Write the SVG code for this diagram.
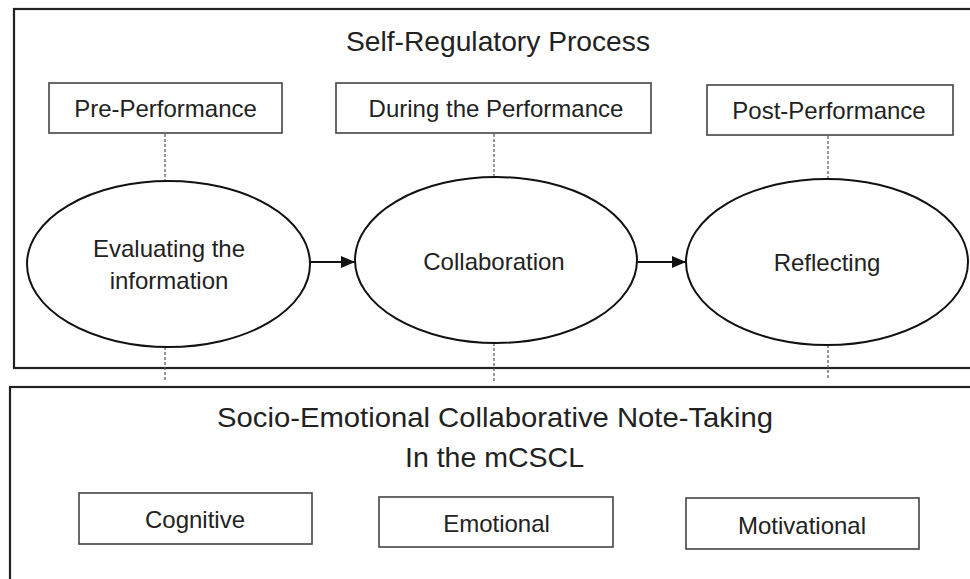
<svg xmlns="http://www.w3.org/2000/svg" width="970" height="579" viewBox="0 0 970 579">
<style>
text{font-family:"Liberation Sans",Arial,sans-serif;fill:#222;text-anchor:middle}
.frame{fill:none;stroke:#222;stroke-width:2.2}
.box{fill:#fff;stroke:#444;stroke-width:1.6}
.ell{fill:#fff;stroke:#111;stroke-width:2}
.lbl{font-size:24px}
.title{font-size:28.5px}
.dash{stroke:#555;stroke-width:1.2;stroke-dasharray:3,2;fill:none}
.arr{stroke:#111;stroke-width:2.2;fill:none;marker-end:url(#ah)}
</style>
<defs>
<marker id="ah" viewBox="0 0 10 10" refX="10" refY="5" markerWidth="14" markerHeight="12" markerUnits="userSpaceOnUse" orient="auto" preserveAspectRatio="none">
<path d="M0,0 L10,5 L0,10 z" fill="#111"/>
</marker>
</defs>
<rect width="970" height="579" fill="#fff"/>
<g id="srp-frame">
<rect class="frame" x="14" y="9" width="970" height="359"/>
<text class="title" x="498" y="51" textLength="304" lengthAdjust="spacingAndGlyphs">Self-Regulatory Process</text>
</g>
<g id="sect-frame">
<rect class="frame" x="10" y="387" width="975" height="210"/>
<text class="title" x="495" y="427" textLength="556" lengthAdjust="spacingAndGlyphs">Socio-Emotional Collaborative Note-Taking</text>
<text class="title" x="494.5" y="467">In the mCSCL</text>
</g>
<g id="connectors">
<line class="dash" x1="165" y1="134" x2="165" y2="181"/>
<line class="dash" x1="494" y1="134" x2="494" y2="177"/>
<line class="dash" x1="828" y1="136" x2="828" y2="179"/>
<line class="dash" x1="165" y1="347" x2="165" y2="382"/>
<line class="dash" x1="494" y1="343" x2="494" y2="381"/>
<line class="dash" x1="828" y1="345" x2="828" y2="380"/>
<line class="arr" x1="310" y1="262" x2="355" y2="262"/>
<line class="arr" x1="637" y1="262" x2="686" y2="262"/>
</g>
<g id="pre">
<rect class="box" x="49" y="83" width="233" height="50"/>
<text class="lbl" x="165.5" y="117">Pre-Performance</text>
</g>
<g id="during">
<rect class="box" x="336" y="83" width="315" height="50"/>
<text class="lbl" x="496" y="117">During the Performance</text>
</g>
<g id="post">
<rect class="box" x="707" y="85" width="246" height="50"/>
<text class="lbl" x="829" y="119">Post-Performance</text>
</g>
<g id="evaluating">
<ellipse class="ell" cx="168.5" cy="264" rx="141.5" ry="83"/>
<text class="lbl" x="169" y="257">Evaluating the</text>
<text class="lbl" x="169" y="289">information</text>
</g>
<g id="collaboration">
<ellipse class="ell" cx="496" cy="260" rx="141" ry="83"/>
<text class="lbl" x="494" y="270">Collaboration</text>
</g>
<g id="reflecting">
<ellipse class="ell" cx="827" cy="262" rx="141" ry="83"/>
<text class="lbl" x="827" y="271">Reflecting</text>
</g>
<g id="cognitive">
<rect class="box" x="79" y="493" width="233" height="51"/>
<text class="lbl" x="195" y="528">Cognitive</text>
</g>
<g id="emotional">
<rect class="box" x="379" y="497" width="234" height="50"/>
<text class="lbl" x="496.5" y="532">Emotional</text>
</g>
<g id="motivational">
<rect class="box" x="686" y="498" width="233" height="51"/>
<text class="lbl" x="802" y="534">Motivational</text>
</g>
</svg>
